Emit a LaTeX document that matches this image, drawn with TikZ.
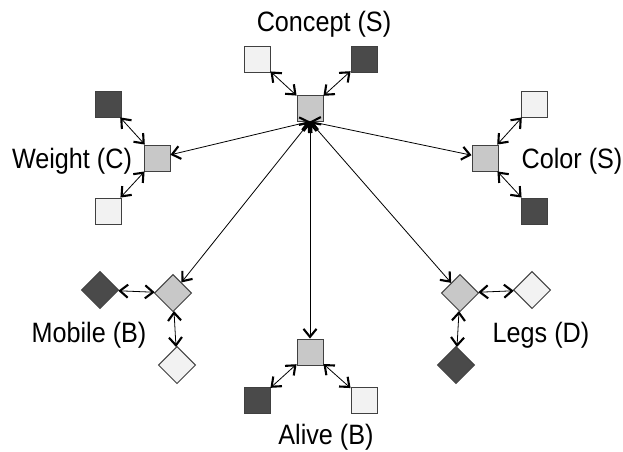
\documentclass[tikz,border=0pt]{standalone}
\usepackage{fontspec}
\setmainfont{Liberation Sans}[FakeStretch=0.9]
\usetikzlibrary{arrows.meta}
\definecolor{midgray}{HTML}{C8C8C8}
\definecolor{darkfill}{HTML}{4A4A4A}
\definecolor{lightfill}{HTML}{F2F2F2}
\definecolor{edgegray}{HTML}{404040}
\tikzset{
  box/.style={draw=edgegray, line width=0.9pt, minimum size=26pt, inner sep=0pt, rectangle},
  hub/.style={box, fill=midgray},
  darkbox/.style={box, fill=darkfill},
  lightbox/.style={box, fill=lightfill},
  turned/.style={rotate=45},
  lbl/.style={font=\fontsize{28}{32}\selectfont, anchor=base, inner sep=0pt},
  barb/.tip={Straight Barb[length=8pt,width=13pt,line width=2.1pt]},
  link/.style={draw=black, line width=0.8pt, barb-barb}
}
\begin{document}
\begin{tikzpicture}[x=1pt,y=-1pt]
\useasboundingbox (0,0) rectangle (623,451);
\fill[white] (0,0) rectangle (623,451);

% concept cluster
\node[hub] (concept) at (310,108) {};
\node[lightbox] (cL) at (257,59) {};
\node[darkbox] (cD) at (364,59) {};
\node[lbl] (tconcept) at (324,31) {Concept (S)};

% weight cluster
\node[hub] (weight) at (157,158) {};
\node[darkbox] (wD) at (108,104) {};
\node[lightbox] (wL) at (108,211) {};
\node[lbl] (tweight) at (72,168) {Weight (C)};

% color cluster
\node[hub] (color) at (485,158) {};
\node[lightbox] (kL) at (534,104) {};
\node[darkbox] (kD) at (534,211) {};
\node[lbl] (tcolor) at (572,168) {Color (S)};

% mobile cluster
\node[hub, turned] (mobile) at (173,293) {};
\node[darkbox, turned] (mD) at (100,290) {};
\node[lightbox, turned] (mL) at (177,365) {};
\node[lbl] (tmobile) at (89,342) {Mobile (B)};

% legs cluster
\node[hub, turned] (legs) at (460,293) {};
\node[lightbox, turned] (lL) at (532,290) {};
\node[darkbox, turned] (lD) at (456,365) {};
\node[lbl] (tlegs) at (541,342) {Legs (D)};

% alive cluster
\node[hub] (alive) at (310,352) {};
\node[darkbox] (aD) at (257,400) {};
\node[lightbox] (aL) at (364,400) {};
\node[lbl] (talive) at (326,444) {Alive (B)};

% links from the concept to each attribute
\foreach \n in {weight,color,mobile,legs,alive}
  \draw[link] (concept.south) -- (\n);

% links from each attribute to its values
\draw[link] (concept) -- (cL);
\draw[link] (concept) -- (cD);
\draw[link] (weight) -- (wD);
\draw[link] (weight) -- (wL);
\draw[link] (color) -- (kL);
\draw[link] (color) -- (kD);
\draw[link] (mobile) -- (mD);
\draw[link] (mobile) -- (mL);
\draw[link] (legs) -- (lL);
\draw[link] (legs) -- (lD);
\draw[link] (alive) -- (aD);
\draw[link] (alive) -- (aL);
\end{tikzpicture}
\end{document}
